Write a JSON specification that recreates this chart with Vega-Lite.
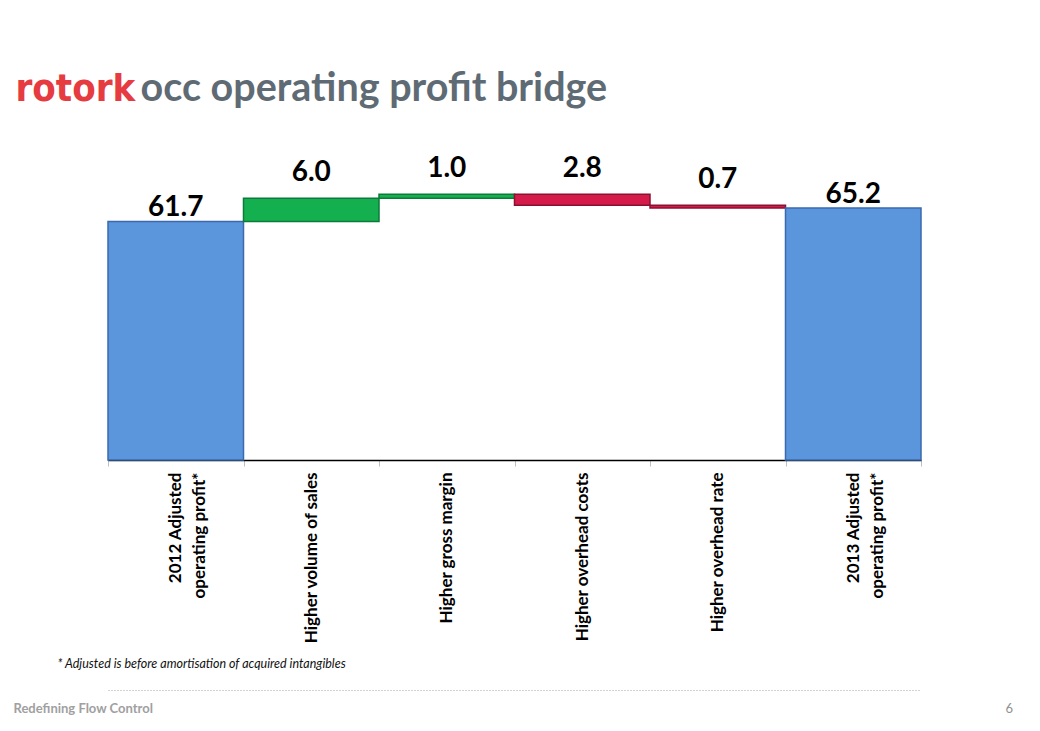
{
  "$schema": "https://vega.github.io/schema/vega-lite/v6.json",
  "width": 813,
  "height": 290,
  "autosize": {"type": "none"},
  "padding": {"left": 108, "top": 170, "right": 119, "bottom": 271},
  "background": "white",
  "config": {"view": {"stroke": null}},
  "data": {
    "values": [
      {"cat": "2012 Adjusted|operating profit*", "start": 0, "end": 61.7, "top": 61.7, "label": "61.7", "type": "total"},
      {"cat": "Higher volume of sales", "start": 61.7, "end": 67.7, "top": 67.7, "label": "6.0", "type": "increase"},
      {"cat": "Higher gross margin", "start": 67.7, "end": 68.7, "top": 68.7, "label": "1.0", "type": "increase"},
      {"cat": "Higher overhead costs", "start": 68.7, "end": 65.9, "top": 68.7, "label": "2.8", "type": "decrease"},
      {"cat": "Higher overhead rate", "start": 65.9, "end": 65.2, "top": 65.9, "label": "0.7", "type": "decrease"},
      {"cat": "2013 Adjusted|operating profit*", "start": 0, "end": 65.2, "top": 65.2, "label": "65.2", "type": "total"}
    ]
  },
  "encoding": {
    "x": {
      "field": "cat",
      "type": "nominal",
      "sort": null,
      "scale": {"paddingInner": 0, "paddingOuter": 0}
    }
  },
  "layer": [
    {
      "mark": {"type": "bar", "strokeWidth": 1.5},
      "encoding": {
        "x": {
          "field": "cat",
          "type": "nominal",
          "sort": null,
          "axis": {
            "orient": "bottom",
            "title": "* Adjusted is before amortisation of acquired intangibles",
            "titleX": -51,
            "titleY": 203,
            "titleAlign": "left",
            "titleBaseline": "middle",
            "titleFont": "Lato",
            "titleFontSize": 12.5,
            "titleFontStyle": "italic",
            "titleFontWeight": "normal",
            "titleColor": "#111111",
            "labelExpr": "split(datum.label, '|')",
            "labelAngle": -90,
            "labelFont": "Lato",
            "labelFontSize": 17,
            "labelFontWeight": "bold",
            "labelColor": "#000000",
            "labelLineHeight": 24,
            "labelLimit": 300,
            "labelPadding": 6,
            "tickBand": "extent",
            "tickSize": 6,
            "tickColor": "#BFBFBF",
            "tickWidth": 1,
            "domainColor": "#000000",
            "domainWidth": 1.5,
            "grid": false
          }
        },
        "y": {
          "field": "start",
          "type": "quantitative",
          "scale": {"domain": [0, 75], "nice": false, "zero": true},
          "axis": null
        },
        "y2": {"field": "end"},
        "fill": {
          "field": "type",
          "type": "nominal",
          "scale": {"domain": ["total", "increase", "decrease"], "range": ["#5B95DC", "#14B050", "#D41B4A"]},
          "legend": null
        },
        "stroke": {
          "field": "type",
          "type": "nominal",
          "scale": {"domain": ["total", "increase", "decrease"], "range": ["#3A69AE", "#0C7A38", "#8C1030"]},
          "legend": null
        }
      }
    },
    {
      "transform": [{"filter": "datum.type == 'total'"}],
      "mark": {"type": "text", "font": "Lato", "fontSize": 28, "fontWeight": "bold", "color": "#000000", "baseline": "alphabetic", "dy": -5},
      "encoding": {
        "x": {
          "field": "cat",
          "type": "nominal",
          "sort": null,
          "axis": {
            "orient": "bottom",
            "offset": 230,
            "labels": false,
            "ticks": false,
            "domainColor": "#A6A6A6",
            "domainDash": [1, 2],
            "domainWidth": 1,
            "title": "Redefining Flow Control",
            "titleX": -95,
            "titleY": 18,
            "titleAlign": "left",
            "titleBaseline": "middle",
            "titleFont": "Lato",
            "titleFontSize": 13,
            "titleFontWeight": "bold",
            "titleColor": "#A0A0A0"
          }
        },
        "y": {
          "field": "top",
          "type": "quantitative",
          "axis": {
            "orient": "right",
            "labels": false,
            "ticks": false,
            "domain": false,
            "grid": false,
            "title": "6",
            "titleAngle": 0,
            "titleX": 84,
            "titleY": 538,
            "titleAlign": "left",
            "titleBaseline": "middle",
            "titleFont": "Lato",
            "titleFontSize": 13,
            "titleFontWeight": "normal",
            "titleColor": "#909090"
          }
        },
        "text": {"field": "label"}
      }
    },
    {
      "transform": [{"filter": "datum.type != 'total'"}],
      "mark": {"type": "text", "font": "Lato", "fontSize": 28, "fontWeight": "bold", "color": "#000000", "baseline": "alphabetic", "dy": -17},
      "encoding": {
        "x": {
          "field": "cat",
          "type": "nominal",
          "sort": null,
          "axis": {
            "orient": "top",
            "labels": false,
            "ticks": false,
            "domain": false,
            "grid": false,
            "title": "occ operating profit bridge",
            "titleX": 32,
            "titleY": -70,
            "titleAlign": "left",
            "titleBaseline": "alphabetic",
            "titleFont": "Lato",
            "titleFontSize": 39.5,
            "titleFontWeight": "bold",
            "titleColor": "#5F6B74"
          }
        },
        "y": {
          "field": "top",
          "type": "quantitative",
          "axis": {
            "orient": "left",
            "labels": false,
            "ticks": false,
            "domain": false,
            "grid": false,
            "title": "rotork",
            "titleAngle": 0,
            "titleX": -93,
            "titleY": -70,
            "titleAlign": "left",
            "titleBaseline": "alphabetic",
            "titleFont": "DejaVu Sans Condensed",
            "titleFontSize": 38,
            "titleFontWeight": "bold",
            "titleColor": "#E63B41"
          }
        },
        "text": {"field": "label"}
      }
    }
  ],
  "resolve": {"axis": {"x": "independent", "y": "independent"}}
}
